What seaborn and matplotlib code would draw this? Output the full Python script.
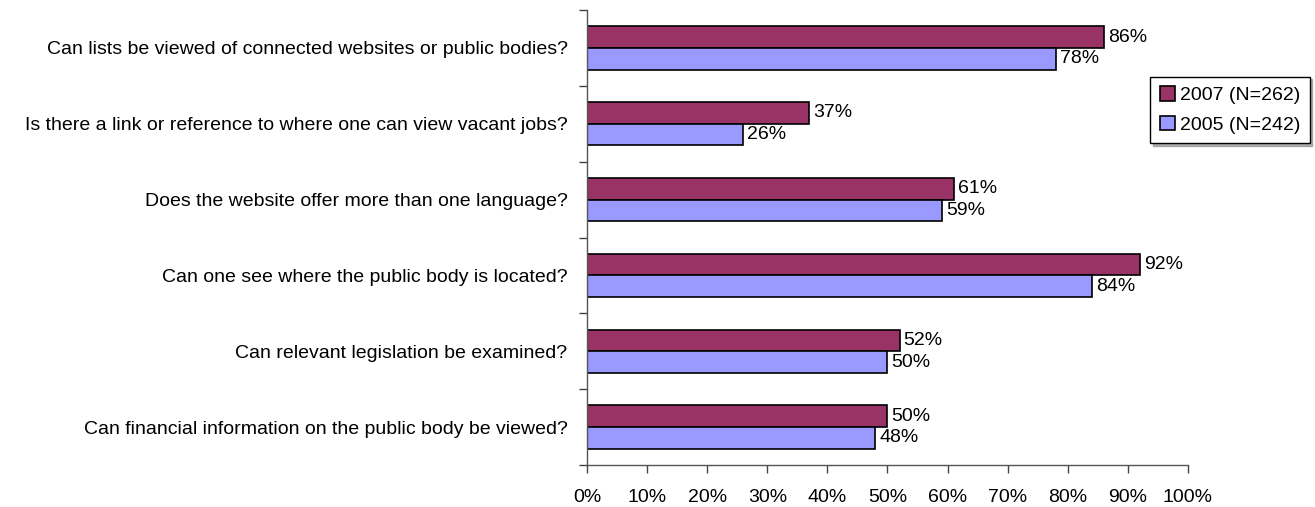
import matplotlib
matplotlib.use("Agg")
import matplotlib.pyplot as plt
from matplotlib.ticker import FixedLocator, PercentFormatter
import seaborn as sns
import pandas as pd

questions = [
    "Can lists be viewed of connected websites or public bodies?",
    "Is there a link or reference to where one can view vacant jobs?",
    "Does the website offer more than one language?",
    "Can one see where the public body is located?",
    "Can relevant legislation be examined?",
    "Can financial information on the public body be viewed?",
]
series = ["2007 (N=262)", "2005 (N=242)"]
values_2007 = [86, 37, 61, 92, 52, 50]
values_2005 = [78, 26, 59, 84, 50, 48]
colors = ["#993366", "#9999FF"]
x_ticks = [0, 10, 20, 30, 40, 50, 60, 70, 80, 90, 100]

df = pd.DataFrame({
    "question": questions * 2,
    "series": [series[0]] * len(questions) + [series[1]] * len(questions),
    "value": values_2007 + values_2005,
})

sns.set_style("white")
plt.rcParams["font.family"] = ["Liberation Sans", "DejaVu Sans"]
plt.rcParams["text.color"] = "black"
plt.rcParams["xtick.color"] = "black"
plt.rcParams["ytick.color"] = "black"

FS = 14

fig = plt.figure(figsize=(13.15, 5.07), dpi=100)
ax = fig.add_axes([0.4464, 0.0828, 0.4570, 0.8975])

sns.barplot(
    data=df, x="value", y="question", hue="series",
    order=questions, hue_order=series, palette=colors,
    orient="h", width=0.57, edgecolor="black", linewidth=1.2,
    saturation=1, ax=ax, legend=True,
)

for container in ax.containers:
    ax.bar_label(container, labels=[f"{v:.0f}%" for v in container.datavalues],
                 padding=3, fontsize=FS, color="black")

ax.set_xlim(0, 100)
ax.set_ylim(len(questions) - 0.5, -0.5)
ax.set_xticks(x_ticks)
ax.xaxis.set_major_formatter(PercentFormatter(decimals=0))
ax.set_xlabel("")
ax.set_ylabel("")

# category labels centred, tick marks on the boundaries between groups
ax.tick_params(axis="y", which="major", left=True, length=0, pad=14,
               labelsize=FS, labelcolor="black")
ax.yaxis.set_minor_locator(FixedLocator([i - 0.5 for i in range(len(questions) + 1)]))
ax.tick_params(axis="y", which="minor", left=True, length=6, width=1,
               color="#444444", direction="out")
ax.tick_params(axis="x", which="major", bottom=True, length=6, width=1,
               color="#444444", direction="out", pad=11, labelsize=FS,
               labelcolor="black")

for side in ["top", "right"]:
    ax.spines[side].set_visible(False)
for side in ["left", "bottom"]:
    ax.spines[side].set_color("#555555")
    ax.spines[side].set_linewidth(1)

handles, labels = ax.get_legend_handles_labels()
ax.legend_.remove()
leg = fig.legend(handles, labels, loc="center", bbox_to_anchor=(1230 / 1315, 1 - 110 / 507),
                 frameon=True, fancybox=False, shadow={"color": "#999999", "alpha": 0.8},
                 fontsize=FS, handlelength=0.75, handleheight=0.75, handletextpad=0.25,
                 borderpad=0.5, labelspacing=0.6, borderaxespad=0)
leg.get_frame().set_edgecolor("black")
leg.get_frame().set_linewidth(1)

fig.savefig("out.png", dpi=100)
